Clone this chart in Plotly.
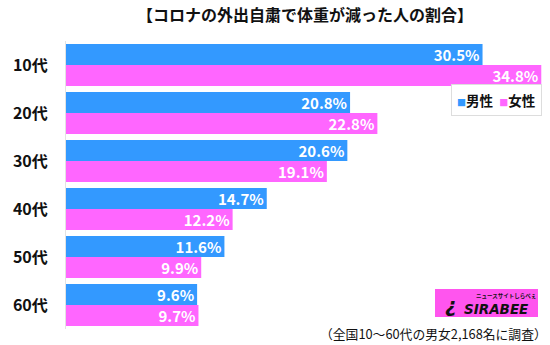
import plotly.graph_objects as go

categories = ["10代", "20代", "30代", "40代", "50代", "60代"]
male = [30.5, 20.8, 20.6, 14.7, 11.6, 9.6]
female = [34.8, 22.8, 19.1, 12.2, 9.9, 9.7]
series_names = ["男性", "女性"]
colors = ["#3399FF", "#FF66FF"]

title_text = "【コロナの外出自粛で体重が減った人の割合】"
note_text = "（全国10～60代の男女2,168名に調査）"

FONT = "Noto Sans CJK JP"

fig = go.Figure()
for name, vals, col in zip(series_names, [male, female], colors):
    fig.add_trace(go.Bar(
        y=categories, x=vals, name=name, orientation="h",
        marker=dict(color=col, line=dict(width=0)),
        text=[f"{v:.1f}%" for v in vals],
        textposition="inside", insidetextanchor="end", constraintext="none",
        textfont=dict(color="white", size=15, family=FONT, weight="bold"),
        cliponaxis=False,
    ))

fig.update_layout(
    width=550, height=345,
    margin=dict(l=66, r=6, t=41, b=16),
    paper_bgcolor="white", plot_bgcolor="white",
    barmode="group", bargap=0.125, bargroupgap=0,
    showlegend=False,
    font=dict(family=FONT, color="#111111"),
    xaxis=dict(range=[0, 35], visible=False, fixedrange=True),
    yaxis=dict(autorange="reversed", showgrid=False, zeroline=False,
               showline=True, linecolor="#e3e3e3", linewidth=1,
               ticks="", ticklabelstandoff=14,
               tickfont=dict(size=16, color="#111111", family=FONT, weight="bold")),
)

fig.add_annotation(text=title_text, xref="paper", yref="paper",
                   x=0.5, y=1, yshift=27, xanchor="center", yanchor="middle",
                   showarrow=False, font=dict(size=16, family=FONT, weight="bold", color="#111111"))

legend_html = (f"<span style='color:{colors[0]};font-size:9px'>■</span>{series_names[0]}&nbsp;&nbsp;"
               f"<span style='color:{colors[1]};font-size:9px'>■</span>{series_names[1]}")
fig.add_annotation(text=legend_html, xref="paper", yref="paper",
                   x=0.995, y=1, yshift=-59, xanchor="right", yanchor="middle",
                   showarrow=False, bordercolor="#dddddd", borderwidth=1, borderpad=5,
                   bgcolor="white",
                   font=dict(size=13.5, family=FONT, weight="bold", color="#111111"))

fig.add_annotation(text=note_text, xref="paper", yref="paper",
                   x=1, xshift=5, y=0, yshift=-4, xanchor="right", yanchor="middle",
                   showarrow=False, font=dict(size=12.8, family=FONT, color="#111111"))

# logo
fig.add_shape(type="rect", xref="paper", yref="paper",
              x0=(435 - 66) / 478, x1=(538 - 66) / 478,
              y0=(329 - 317) / 288, y1=(329 - 289) / 288,
              fillcolor="#FF55EE", line=dict(width=0), layer="above")
fig.add_annotation(text="<i>¿</i>", xref="paper", yref="paper",
                   x=(451 - 66) / 478, y=(329 - 305) / 288, xanchor="center", yanchor="middle",
                   showarrow=False, font=dict(size=20, family="DejaVu Sans", weight="bold", color="#111111"))
fig.add_annotation(text="<i>SIRABEE</i>", xref="paper", yref="paper",
                   x=(496 - 66) / 478, y=(329 - 309) / 288, xanchor="center", yanchor="middle",
                   showarrow=False, font=dict(size=13.5, family="DejaVu Sans", weight="bold", color="#111111"))
fig.add_annotation(text="ニュースサイトしらべぇ", xref="paper", yref="paper",
                   x=(506 - 66) / 478, y=(329 - 296) / 288, xanchor="center", yanchor="middle",
                   showarrow=False, font=dict(size=5.5, family=FONT, weight="bold", color="#111111"))

fig.write_html("out.html")
